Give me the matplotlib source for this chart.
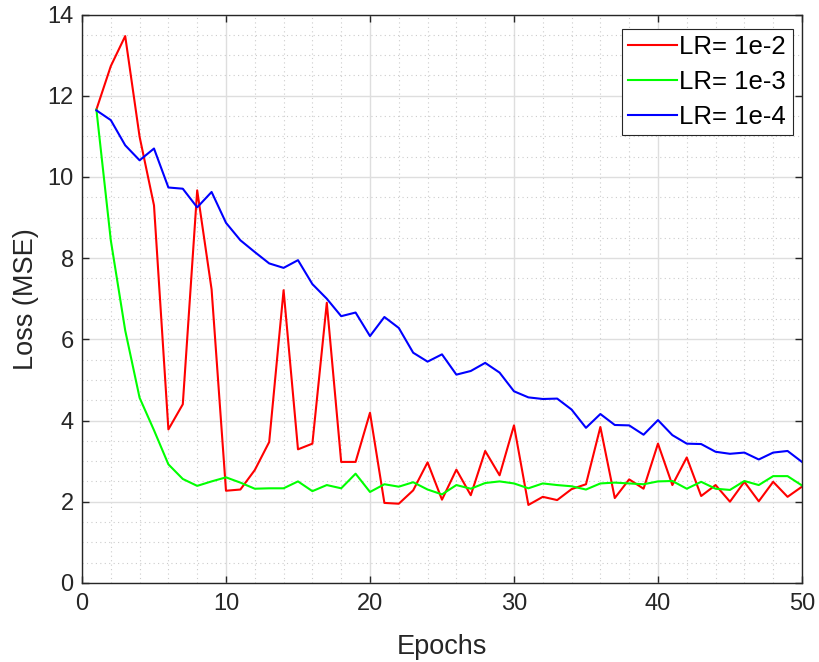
import matplotlib
matplotlib.use("Agg")
import matplotlib.pyplot as plt
from matplotlib.ticker import MultipleLocator

plt.rcParams['font.family'] = ['Liberation Sans', 'DejaVu Sans']

epochs = list(range(1, 51))

loss_lr_1e2 = [11.66, 12.73, 13.47, 10.99, 9.30, 3.78, 4.40, 9.67, 7.23, 2.27,
               2.30, 2.78, 3.47, 7.21, 3.29, 3.43, 6.90, 2.98, 2.98, 4.19,
               1.97, 1.95, 2.28, 2.97, 2.05, 2.79, 2.16, 3.25, 2.65, 3.88,
               1.92, 2.12, 2.04, 2.31, 2.43, 3.84, 2.09, 2.55, 2.32, 3.43,
               2.41, 3.09, 2.14, 2.41, 2.00, 2.49, 2.01, 2.49, 2.12, 2.37]

loss_lr_1e3 = [11.66, 8.44, 6.22, 4.56, 3.76, 2.92, 2.56, 2.39, 2.50, 2.60,
               2.47, 2.32, 2.33, 2.33, 2.50, 2.26, 2.41, 2.33, 2.69, 2.24,
               2.43, 2.37, 2.48, 2.30, 2.18, 2.41, 2.32, 2.46, 2.50, 2.45,
               2.33, 2.45, 2.41, 2.38, 2.30, 2.45, 2.47, 2.45, 2.43, 2.50,
               2.51, 2.32, 2.49, 2.32, 2.29, 2.51, 2.41, 2.63, 2.63, 2.40]

loss_lr_1e4 = [11.64, 11.40, 10.78, 10.41, 10.70, 9.74, 9.71, 9.25, 9.63, 8.87,
               8.44, 8.15, 7.87, 7.76, 7.95, 7.36, 7.00, 6.57, 6.66, 6.08,
               6.55, 6.28, 5.67, 5.45, 5.63, 5.13, 5.22, 5.42, 5.18, 4.72,
               4.57, 4.53, 4.54, 4.27, 3.82, 4.16, 3.89, 3.88, 3.65, 4.01,
               3.64, 3.43, 3.42, 3.23, 3.18, 3.21, 3.04, 3.21, 3.25, 2.98]

labels = ['LR= 1e-2', 'LR= 1e-3', 'LR= 1e-4']
colors = ['#ff0000', '#00ff00', '#0000ff']

fig = plt.figure(figsize=(8.2, 6.62), dpi=100)
ax = fig.add_axes([0.1, 0.1195, 0.878, 0.8585])

for series, lab, col in zip([loss_lr_1e2, loss_lr_1e3, loss_lr_1e4], labels, colors):
    ax.plot(epochs, series, color=col, linewidth=1.5, label=lab)

ax.set_xlim(0, 50)
ax.set_ylim(0, 14)
ax.xaxis.set_major_locator(MultipleLocator(10))
ax.xaxis.set_minor_locator(MultipleLocator(2))
ax.yaxis.set_major_locator(MultipleLocator(2))
ax.yaxis.set_minor_locator(MultipleLocator(0.5))

ax.grid(which='major', color='#dedede', linewidth=1.0, linestyle='-')
ax.grid(which='minor', color='#cccccc', linewidth=0.8, linestyle=(0, (1, 3)))
ax.set_axisbelow(True)

ax.tick_params(which='both', direction='in', top=True, right=True,
               colors='#262626', labelsize=17, labelcolor='#262626')
ax.tick_params(which='major', length=5, width=1.0)
ax.tick_params(axis='x', which='major', pad=7)
ax.tick_params(axis='y', which='major', pad=6)
ax.tick_params(which='minor', length=0)
for sp in ax.spines.values():
    sp.set_color('#262626')
    sp.set_linewidth(1.0)

ax.set_xlabel('Epochs', fontsize=19.5, color='#262626', labelpad=14)
ax.set_ylabel('Loss (MSE)', fontsize=19.5, color='#262626', labelpad=6)

leg = ax.legend(loc='upper right', bbox_to_anchor=(0.987, 0.9753),
                fontsize=18.5, frameon=True, fancybox=False,
                edgecolor='#262626', framealpha=1.0, handlelength=1.9,
                handletextpad=0.1, borderpad=0.25, borderaxespad=0.0,
                labelspacing=0.42)
leg.get_frame().set_linewidth(0.8)

fig.savefig('out.png', dpi=100)
